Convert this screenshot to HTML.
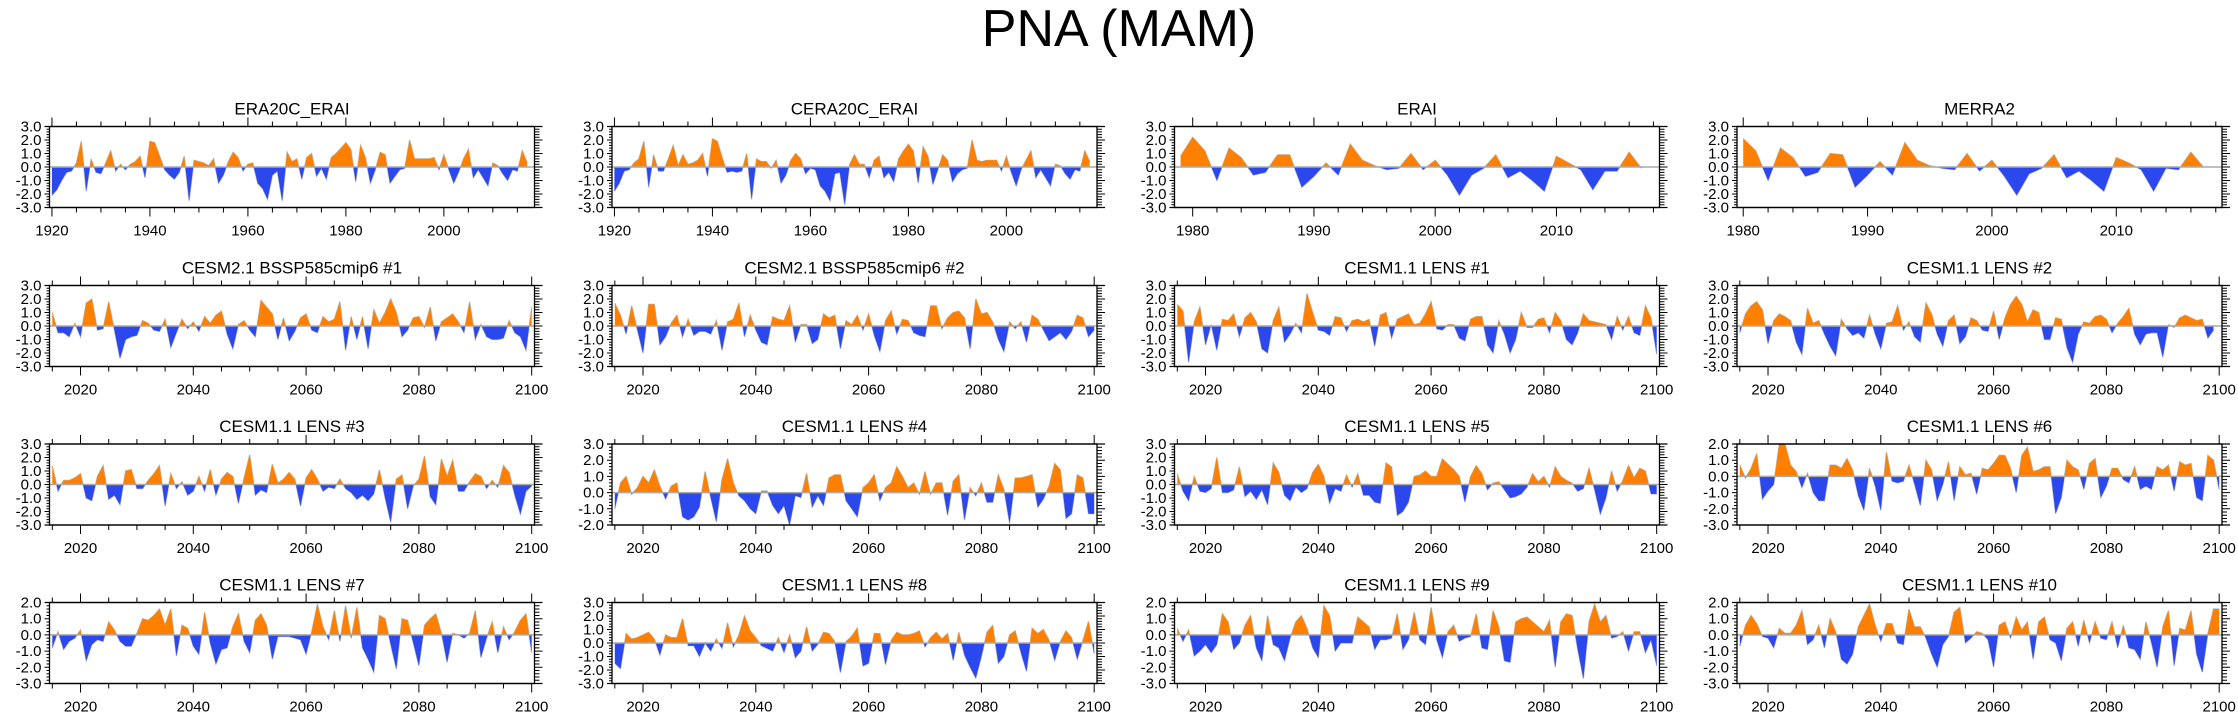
<!DOCTYPE html>
<html><head><meta charset="utf-8"><title>PNA (MAM)</title>
<style>
html,body{margin:0;padding:0;background:#fff;}
svg{display:block;font-family:"Liberation Sans",Arial,sans-serif;}
</style></head>
<body>
<svg id="fig" width="2238" height="718" viewBox="0 0 2238 718">
<text x="1119" y="46" text-anchor="middle" font-size="52" fill="#000">PNA (MAM)</text>
</svg>
<script>
// ---------- data (years start + values) ----------
const panelTitles = ["ERA20C_ERAI","CERA20C_ERAI","ERAI","MERRA2",
 "CESM2.1 BSSP585cmip6 #1","CESM2.1 BSSP585cmip6 #2","CESM1.1 LENS #1","CESM1.1 LENS #2",
 "CESM1.1 LENS #3","CESM1.1 LENS #4","CESM1.1 LENS #5","CESM1.1 LENS #6",
 "CESM1.1 LENS #7","CESM1.1 LENS #8","CESM1.1 LENS #9","CESM1.1 LENS #10"];
const startYears = [1920,1920,1979,1980,2015,2015,2015,2015,2015,2015,2015,2015,2015,2015,2015,2015];
const xDomains = [[1919.5,2018.5],[1919.5,2018.5],[1978.5,2018.5],[1979.5,2018.5]];
const yMins = [-3,-3,-3,-3,-3,-3,-3,-3,-3,-2,-3,-3,-3,-3,-3,-3];
const yMaxs = [3,3,3,3,3,3,3,3,3,3,3,2,2,3,2,2];
const xTickLabelsHist = [1920,1940,1960,1980,2000];
const xTickLabelsRe = [1980,1990,2000,2010];
const xTickLabelsFut = [2020,2040,2060,2080,2100];

const sERA20C = [-2.1,-1.7,-1.0,-0.4,-0.3,0.3,1.9,-1.8,0.6,-0.4,-0.5,0.3,1.2,-0.3,0.2,-0.2,0.2,0.4,0.8,-0.8,1.9,1.8,0.8,-0.2,-0.6,-0.9,-0.4,0.8,-2.5,0.5,0.4,0.3,0.1,0.6,-1.2,-0.6,0.4,1.1,0.7,-0.3,0.2,0.3,-1.2,-1.6,-2.4,-0.6,-0.3,-2.5,1.1,0.4,0.6,-0.9,0.7,1.0,-0.7,-0.1,-0.9,0.7,1.0,1.4,1.8,1.3,-1.1,1.6,0.7,-1.2,-0.2,1.1,0.9,-1.2,-0.7,-0.2,-0.1,2.0,0.6,0.6,0.6,0.6,0.7,-0.2,0.9,-0.2,-1.2,-0.4,0.6,1.3,-0.8,-0.2,-0.8,-1.4,0.3,0.1,-0.5,-1.0,-0.2,-0.3,1.2,0.3];
const sCERA20C = [-1.8,-1.2,-0.3,-0.2,0.3,0.6,1.9,-1.5,0.9,-0.3,-0.3,0.6,1.6,0.1,0.9,0.2,0.3,0.5,1.0,-0.7,2.1,1.9,0.7,-0.4,-0.3,-0.4,-0.3,1.0,-2.4,0.6,0.4,0.4,-0.1,0.5,-1.2,-0.6,0.5,1.0,0.6,-0.5,-0.1,-0.2,-1.4,-1.8,-2.5,-0.5,-0.4,-2.8,0.2,0.9,0.2,0.2,-0.8,0.5,0.8,-0.8,-0.4,-1.1,0.6,1.2,1.7,1.2,-1.2,1.5,0.8,-1.3,-0.2,0.9,0.5,-1.1,-0.5,-0.2,-0.1,2.0,0.5,0.4,0.5,0.5,0.5,-0.3,0.8,-0.4,-1.4,-0.2,0.5,1.2,-0.8,-0.2,-0.8,-1.4,0.2,0.1,-0.5,-0.9,-0.2,-0.3,1.2,0.4];
const sERAI = [0.8,2.2,1.2,-1.0,1.4,0.7,-0.6,-0.4,0.9,0.9,-1.5,-0.7,0.3,-0.6,1.7,0.5,0.1,-0.2,-0.1,1.0,-0.2,0.5,-0.6,-2.1,-0.6,-0.1,0.9,-0.8,-0.3,-1.0,-1.8,0.8,0.3,-0.2,-1.7,-0.3,-0.3,1.1,-0.1];
const sMERRA2 = [2.1,1.2,-1.0,1.4,0.7,-0.7,-0.4,1.0,0.9,-1.5,-0.6,0.4,-0.6,1.8,0.5,0.1,-0.1,-0.2,1.0,-0.3,0.5,-0.7,-2.1,-0.5,-0.1,0.9,-0.8,-0.3,-1.0,-1.8,0.7,0.3,-0.2,-1.8,-0.1,-0.2,1.1,0.0];
const sCESM2a = [1.0,-0.5,-0.5,-0.8,0.2,-0.8,1.7,2.0,-0.3,-0.2,1.8,-0.3,-2.4,-1.0,-0.8,-0.7,0.4,0.2,-0.3,-0.4,0.5,-1.6,-0.5,0.5,-0.2,0.3,-0.4,0.7,0.2,0.8,1.1,-0.6,-1.7,0.1,0.4,-0.3,-0.8,1.9,1.4,0.9,-1.0,0.6,-1.1,-0.4,0.6,0.9,-0.3,-0.5,0.7,0.3,0.5,1.8,-1.8,0.7,-1.0,0.7,-1.7,1.2,0.2,1.0,2.0,1.0,-0.8,-0.3,0.6,0.7,-0.1,1.4,-1.1,0.3,0.6,0.9,0.3,-0.5,1.8,-1.0,0.1,-0.8,-1.0,-1.0,-0.9,0.4,-0.5,-0.8,-1.8,1.4];
const sCESM2b = [1.7,0.8,-0.6,1.5,-0.3,-2.0,1.6,1.6,-1.4,-0.8,0.2,0.8,-0.8,0.5,-0.7,-0.4,-0.4,-0.6,0.4,-1.8,0.3,0.5,1.7,-0.8,0.8,-0.3,-1.2,-1.4,0.7,0.5,0.4,1.5,-1.2,0.1,0.1,-1.3,-1.0,0.9,0.6,0.8,-1.7,0.4,0.1,0.8,-0.3,0.9,-0.7,-1.9,0.4,1.1,-0.6,0.5,0.4,-0.5,-0.7,-0.8,1.5,1.5,-0.2,0.6,1.0,1.1,0.6,-1.7,2.0,0.9,1.0,0.3,-1.0,-1.9,0.3,-0.2,0.3,-1.2,0.8,0.5,-0.3,-1.1,-0.8,-0.5,-1.0,-0.4,0.8,0.6,-0.8,-0.3];
const sLENS1 = [1.6,1.1,-2.7,0.3,1.4,-1.4,0.1,-1.8,0.5,0.4,0.9,-0.8,0.6,1.0,0.3,-1.7,-2.0,0.4,1.4,-1.2,-0.6,0.2,-0.5,2.4,1.0,-0.3,-0.4,-0.7,0.7,0.6,-0.4,0.4,0.5,0.3,0.5,-1.5,0.8,1.0,-0.9,0.5,0.7,0.9,0.1,0.2,0.9,1.8,-0.2,-0.3,0.1,0.1,-0.9,-1.1,0.5,0.7,0.7,-1.4,-2.0,0.4,-0.6,-2.0,-1.0,1.0,-0.1,-0.1,0.5,0.6,-0.5,1.0,0.4,-1.0,-1.4,-0.5,0.9,0.4,0.3,0.2,0.1,-1.0,0.7,-0.3,0.7,-0.5,-0.7,1.5,0.6,-2.1];
const sLENS2 = [-0.5,0.9,1.5,1.8,1.2,-1.3,0.4,0.9,0.7,0.4,-1.2,-2.1,1.3,0.2,0.4,-0.6,-1.5,-2.2,0.5,-0.2,-0.7,-0.5,-0.9,0.8,-0.6,-1.7,0.2,0.3,1.5,-0.3,0.3,-0.8,-1.2,1.7,0.9,-0.6,-1.5,0.4,0.8,-1.3,-0.8,0.6,0.4,-0.3,-0.4,1.1,-1.0,0.6,1.6,2.2,1.6,0.3,1.2,1.0,-1.0,-1.0,0.6,0.5,-1.6,-2.7,-0.6,0.3,0.2,0.7,0.8,0.5,-0.5,0.2,0.7,1.3,-0.6,-1.4,-0.6,-0.5,-0.5,-2.3,0.1,-0.1,0.6,0.8,0.6,0.4,0.5,-0.9,-0.3];
const sLENS3 = [1.4,-0.5,0.3,0.3,0.5,0.8,-1.0,-1.2,0.6,1.4,-1.1,-0.8,-1.5,1.0,1.1,-0.3,-0.3,0.3,0.8,1.4,-1.6,0.8,-0.3,0.2,-0.8,-0.5,0.6,-0.5,1.1,-0.8,0.4,0.9,0.6,-1.4,0.5,2.2,-0.8,-0.4,-0.6,1.5,0.1,0.4,0.9,0.4,-1.6,0.5,1.1,0.4,-0.5,-0.2,-0.3,0.4,-0.3,-0.6,-1.1,-0.8,-1.2,-0.7,1.1,-1.0,-2.8,0.4,0.7,-1.8,-0.1,0.4,2.1,-0.9,-1.5,1.9,0.6,1.8,-0.5,-0.5,0.2,0.8,0.6,-0.3,0.3,-0.2,1.4,0.9,-0.8,-2.2,-0.5,-0.1];
const sLENS4 = [-1.0,0.6,1.0,-0.1,0.3,1.0,0.6,1.4,0.4,-0.4,0.4,0.6,-1.5,-1.7,-1.5,-0.9,1.3,-0.3,-1.8,0.8,2.1,0.6,-0.2,-0.5,-1.0,-1.3,0.1,0.1,-0.8,-1.3,-0.8,-2.0,-0.2,-0.3,1.2,-0.9,-0.2,-0.8,0.9,1.1,1.1,-0.5,-1.0,-1.5,0.3,0.6,1.1,-0.5,0.3,0.6,1.6,1.0,0.3,0.6,-0.1,1.3,-0.1,0.6,0.6,-1.4,0.7,1.1,-1.7,0.3,-0.2,0.6,-0.6,-0.6,1.1,0.2,-1.9,0.9,0.9,1.0,1.1,-0.9,-0.4,0.4,1.8,1.4,-1.6,-1.3,1.1,0.9,-1.3,-1.3];
const sLENS5 = [0.8,-0.5,-1.2,0.6,-0.5,-0.6,-0.3,2.0,-0.6,-0.6,-0.4,1.3,-0.9,-0.5,-1.1,-0.4,-1.5,1.6,0.9,-0.8,-1.2,-0.2,-0.6,-0.3,0.9,1.5,0.6,-1.4,-0.3,-0.5,0.7,-0.2,0.8,-0.8,-0.8,-1.3,-1.4,1.6,1.3,-2.3,-2.0,-1.3,0.6,0.7,1.0,0.6,0.6,1.9,1.5,1.1,0.6,-1.3,0.6,1.4,0.8,-0.4,0.1,0.2,-0.4,-1.0,-0.9,-0.7,-0.2,0.8,0.2,0.6,-0.2,1.3,0.6,0.3,0.1,-0.5,-0.3,1.2,-0.4,-2.2,-1.0,1.0,-0.5,0.3,1.4,0.5,1.2,1.0,-0.7,-0.7];
const sLENS6 = [0.7,-0.1,0.5,1.4,-1.4,-0.9,-0.5,2.0,2.0,0.7,0.3,-0.7,0.2,-1.0,-1.5,-1.5,0.7,0.7,0.5,1.1,0.4,-1.2,-2.1,0.5,-0.6,-2.1,1.5,-0.3,-0.4,-0.3,0.7,-0.5,-1.8,1.0,0.4,-1.5,-0.5,0.9,-1.5,0.6,0.1,0.2,-1.1,0.5,0.4,0.8,1.3,1.3,0.5,-1.0,1.3,1.8,0.3,0.4,0.6,0.6,-2.3,-1.3,1.0,0.6,0.4,-0.8,0.8,1.1,-1.3,-0.6,0.5,0.5,-0.2,-0.4,0.6,-0.8,-0.6,-0.8,0.6,0.4,0.7,-0.9,0.9,0.7,0.8,-1.3,-1.5,1.3,1.0,-0.8];
const sLENS7 = [-0.8,0.2,-0.9,-0.4,-0.2,0.3,-1.6,-0.6,-0.3,-0.4,0.8,0.3,-0.4,-0.7,-0.7,0.1,1.0,0.9,1.2,1.6,0.6,1.6,-1.3,0.6,0.4,-0.7,-1.2,1.4,-0.5,-1.8,-0.9,-0.8,0.5,1.3,-0.4,-1.1,0.9,1.3,0.6,-1.5,-0.1,-0.1,-0.1,-0.2,-0.3,-1.2,0.2,1.9,0.5,-0.3,1.5,-0.4,1.8,-0.2,1.7,-0.8,-1.5,-2.3,1.2,1.0,-0.6,-2.1,1.0,0.9,-0.5,-1.9,0.6,1.0,1.3,0.1,-1.7,0.1,0.0,-0.2,0.1,1.5,-1.4,-0.2,0.8,-1.1,0.5,-0.3,0.2,0.9,1.3,-1.1];
const sLENS8 = [-1.5,-1.9,0.7,0.3,0.4,0.6,0.8,0.3,-0.9,0.6,0.4,0.4,1.8,-0.2,-0.2,-1.0,0.0,-0.6,0.3,-0.4,1.5,-0.3,0.6,2.0,0.9,0.4,-0.2,-0.4,-0.6,0.4,-0.7,0.6,-1.1,-0.6,1.2,-0.6,-0.1,0.8,0.7,0.1,-2.2,0.1,0.5,1.1,-1.7,-1.5,0.7,0.7,-1.6,0.2,0.8,0.6,0.6,0.7,0.9,-0.3,0.4,0.8,0.3,0.7,-1.3,0.8,-0.9,-1.8,-2.6,-1.0,0.8,1.3,-1.5,-1.0,0.6,0.9,-0.7,-2.1,1.1,0.7,1.0,0.2,-1.3,0.1,0.9,0.4,-1.2,0.2,1.6,-0.8];
const sLENS9 = [0.4,-0.4,0.3,-1.3,-1.0,-0.6,-1.1,-0.6,1.3,0.8,-0.9,-0.5,0.6,1.2,-0.8,-1.6,1.2,-0.6,-0.8,-1.6,-0.2,0.8,1.2,0.4,-0.8,-1.4,1.8,1.2,-1.0,-0.5,-0.5,-0.5,1.1,0.8,0.5,-0.9,-0.3,-0.3,-0.2,1.3,-0.9,-0.3,1.4,-0.3,-0.6,1.7,-0.3,-1.4,0.2,0.6,-0.4,-0.2,-0.1,1.3,-0.8,-0.9,1.5,0.5,-1.6,-1.7,0.8,1.0,1.1,0.8,0.5,0.2,0.9,-2.0,0.8,1.3,1.2,-0.9,-2.7,0.8,1.9,0.8,1.2,-0.2,-0.1,0.2,-1.0,0.2,0.2,-1.1,-0.3,-1.9];
const sLENS10 = [-0.7,0.6,1.2,0.7,-0.1,-0.2,-0.8,0.4,0.1,0.1,0.6,1.5,-0.6,-0.3,0.6,-0.8,1.0,0.2,-1.5,-1.8,-1.2,0.5,1.2,1.9,0.6,-0.4,0.7,0.7,-0.5,-0.6,1.6,0.5,0.5,-0.2,-1.2,-2.0,-0.6,-0.1,1.4,1.7,-0.5,-0.2,0.2,0.1,-0.3,-2.0,0.6,0.8,-0.2,1.1,0.3,0.8,-1.5,0.8,1.1,-0.3,-0.5,-1.6,0.4,0.8,-0.7,0.9,-0.5,0.8,-0.2,-0.3,0.8,-0.8,0.6,-0.8,-0.9,-1.5,0.8,-0.5,-2.0,0.5,1.5,-1.9,0.4,0.3,1.5,-1.2,-2.3,0.1,1.6,1.6];
const seriesList = [sERA20C,sCERA20C,sERAI,sMERRA2,sCESM2a,sCESM2b,sLENS1,sLENS2,sLENS3,sLENS4,sLENS5,sLENS6,sLENS7,sLENS8,sLENS9,sLENS10];

// ---------- layout ----------
const NS = "http://www.w3.org/2000/svg";
const svg = document.getElementById('fig');
const colLeft = [49.5, 612, 1174.5, 1737];
const rowTop = [126.5, 285.5, 444, 602.5];
const BW = 485, BH = 81;
const ORANGE = "#ff8000", BLUE = "#2b47ee";
function mk(tag, attrs, parent){ const e=document.createElementNS(NS,tag); for(const k in attrs) e.setAttribute(k,attrs[k]); (parent||svg).appendChild(e); return e; }

for (let p=0;p<16;p++){
  const r=Math.floor(p/4), c=p%4;
  const L=colLeft[c], T=rowTop[r], R=L+BW, B=T+BH;
  const g=mk('g',{});
  
  
  const dom = r===0 ? xDomains[c] : [2014.5,2100.5];
  const ymin=yMins[p], ymax=yMaxs[p];
  const X = yr => L + (yr-dom[0])/(dom[1]-dom[0])*BW;
  const Y = v => T + (ymax-v)/(ymax-ymin)*BH;
  const tt=mk('text',{x:(L+R)/2,y:T-12,'text-anchor':'middle','font-size':17,fill:'#000'},g);
  tt.textContent=panelTitles[p];
  
  
  const vals=seriesList[p], y0=startYears[p];
  const pos=[], neg=[];
  const z=Y(0);
  pos.push([X(y0),z]); neg.push([X(y0),z]);
  for(let i=0;i<vals.length;i++){
    const x=X(y0+i), v=vals[i];
    if(i>0){
      const pv=vals[i-1];
      if((pv>0&&v<0)||(pv<0&&v>0)){
        const t=pv/(pv-v); const xc=X(y0+i-1+t);
        pos.push([xc,z]); neg.push([xc,z]);
      }
    }
    pos.push([x, v>0?Y(v):z]); neg.push([x, v<0?Y(v):z]);
  }
  const xe=X(y0+vals.length-1);
  pos.push([xe,z]); neg.push([xe,z]);
  const line = vals.map((v,i)=>X(y0+i).toFixed(1)+','+Y(v).toFixed(1)).join(' ');
  const ln=mk('polyline',{points:line,fill:'none',stroke:'#b8b8b8','stroke-width':1.2},g);
  
  
  const fp=mk('polygon',{points:pos.map(q=>q[0].toFixed(1)+','+q[1].toFixed(1)).join(' '),fill:ORANGE},g);
  
  
  const fn=mk('polygon',{points:neg.map(q=>q[0].toFixed(1)+','+q[1].toFixed(1)).join(' '),fill:BLUE},g);
  
  
  const zl=mk('line',{x1:L,x2:R,y1:z,y2:z,stroke:'#aaaaaa','stroke-width':1.5},g);
  
  
  const fr=mk('rect',{x:L,y:T,width:BW,height:BH,fill:'none',stroke:'#000','stroke-width':1.3},g);
  
  
  mk('line',{x1:L-5,x2:R+8,y1:T,y2:T,stroke:'#000','stroke-width':1.3},g);
  mk('line',{x1:L-5,x2:R+8,y1:B,y2:B,stroke:'#000','stroke-width':1.3},g);
  let tp='';
  for(let k=Math.round(ymin*5);k<=Math.round(ymax*5);k++){
    const v=k/5, y=Y(v), major=(k%5===0);
    tp+=`M${L-(major?5:3)},${y}H${L}M${R},${y}H${R+(major?8:5)}`;
    if(major){
      const lb=mk('text',{x:L-8,y:y+5,'text-anchor':'end','font-size':15,fill:'#000'},g);
      lb.textContent=v.toFixed(1);
      
      
    }
  }
  let labs, minorStep, majorStep;
  if(r===0 && c<2){labs=xTickLabelsHist;minorStep=5;majorStep=20;}
  else if(r===0){labs=xTickLabelsRe;minorStep=2;majorStep=10;}
  else {labs=xTickLabelsFut;minorStep=5;majorStep=20;}
  for(let yr=Math.ceil(dom[0]/minorStep)*minorStep; yr<=dom[1]; yr+=minorStep){
    const x=X(yr), major=(yr%majorStep===0);
    const len=major?9:5;
    tp+=`M${x},${T}V${T-len}M${x},${B}V${B+len}`;
  }
  const tk=mk('path',{d:tp,stroke:'#000','stroke-width':1.0,fill:'none'},g);
  
  
  for(const yr of labs){
    const lb=mk('text',{x:X(yr),y:B+28,'text-anchor':'middle','font-size':15,fill:'#000'},g);
    lb.textContent=String(yr);
    
    
  }
}
</script>
</body></html>
